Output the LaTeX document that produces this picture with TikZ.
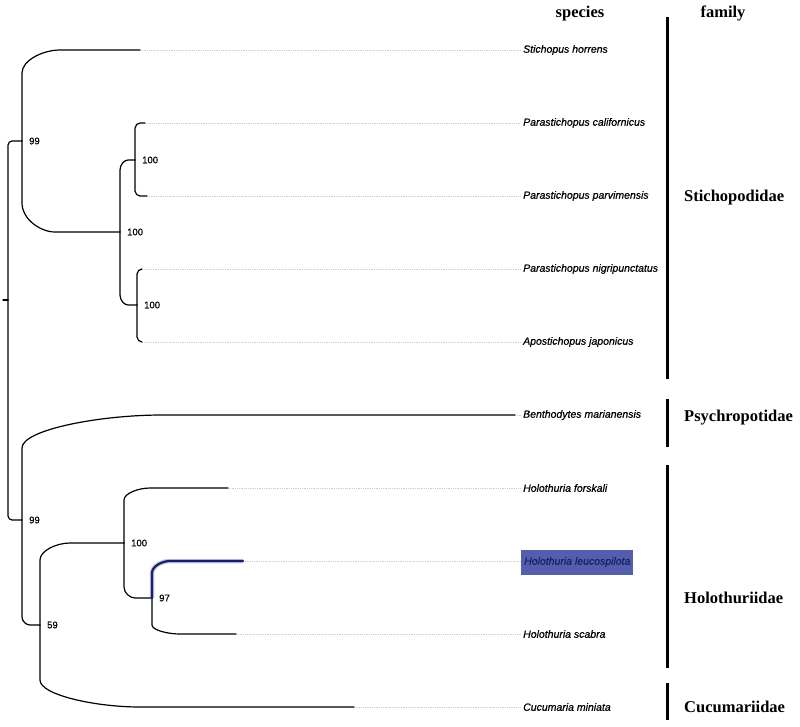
\documentclass[tikz,border=0pt]{standalone}
\usepackage{fontspec}
\setmainfont{Liberation Serif}
\setsansfont[FakeBold=0.6]{Liberation Sans}
\usetikzlibrary{calc,positioning}

\definecolor{hlfill}{RGB}{84,94,172}
\definecolor{hlnavy}{RGB}{22,32,104}
\definecolor{guidegray}{RGB}{205,205,205}

\tikzset{
  branch/.style={line width=1.2pt, line cap=round},
  hlbranch/.style={line width=2.2pt, hlnavy, line cap=round},
  glow/.style={line width=4.5pt, hlfill, opacity=0.35},
  guide/.style={guidegray, line width=0.8pt, densely dotted},
  sp/.style={font=\sffamily\itshape\fontsize{10.5}{12}\selectfont, anchor=west, inner sep=2pt},
  boot/.style={font=\sffamily\fontsize{9.5}{11}\selectfont, inner sep=0pt},
  fam/.style={font=\bfseries\fontsize{16.5}{19}\selectfont, anchor=base west, inner sep=0pt},
  bar/.style={line width=3pt},
}

% elbow branch: parent, child, corner width, corner height (+ up, - down)
\newcommand{\clade}[5][branch]{%
  \draw[#1] let \p1=(#2), \p2=(#3) in
    (\x1,\y1) -- (\x1,{\y2-(#5)*1pt})
    .. controls (\x1,{\y2-0.448*(#5)*1pt}) and ({\x1+0.552*(#4)*1pt},\y2)
    .. ({\x1+(#4)*1pt},\y2) -- (\x2,\y2);}

\begin{document}
\begin{tikzpicture}[x=1pt, y=-1pt]

\useasboundingbox (0,0) rectangle (800,726);

% Internal nodes
\coordinate (root) at (8,300);
\coordinate (stem) at (3,300);
\coordinate (nA) at (22,141);
\coordinate (nB) at (120,232);
\coordinate (nC) at (135,160);
\coordinate (nD) at (137,305);
\coordinate (nE) at (22,520);
\coordinate (nF) at (40,625);
\coordinate (nG) at (124,543);
\coordinate (nH) at (152,598);

% Branch tips
\coordinate (tHorrens) at (140,50);
\coordinate (tCalif) at (145,123);
\coordinate (tParv) at (147,196);
\coordinate (tNigri) at (142,269);
\coordinate (tJapon) at (142,342);
\coordinate (tBentho) at (515,415);
\coordinate (tForsk) at (228,488);
\coordinate (tLeuco) at (243,561);
\coordinate (tScabra) at (236,634);
\coordinate (tCucu) at (354,707);

% Species labels
\node[sp] (horrens) at (521,50) {Stichopus horrens};
\node[sp] (calif) at (521,123) {Parastichopus californicus};
\node[sp] (parv) at (521,196) {Parastichopus parvimensis};
\node[sp] (nigri) at (521,269) {Parastichopus nigripunctatus};
\node[sp] (japon) at (521,342) {Apostichopus japonicus};
\node[sp] (bentho) at (521,415) {Benthodytes marianensis};
\node[sp] (forsk) at (521,488) {Holothuria forskali};
\node[sp, fill=hlfill, text=hlnavy, inner xsep=3pt, minimum height=25pt] (leuco) at (521,562) {Holothuria leucospilota};
\node[sp] (scabra) at (521,634) {Holothuria scabra};
\node[sp] (cucu) at (521,707) {Cucumaria miniata};

% Dotted guides
\foreach \t/\s in {tHorrens/horrens, tCalif/calif, tParv/parv, tNigri/nigri, tJapon/japon,
                   tBentho/bentho, tForsk/forsk, tLeuco/leuco, tScabra/scabra, tCucu/cucu}
  \draw[guide] (\t) -- (\t -| \s.west);

% Tree
\draw[branch] (stem) -- (root);
\clade{root}{nA}{4}{4}
\clade{root}{nE}{4}{-4}
\clade{nA}{tHorrens}{38}{23}
\clade{nA}{nB}{33}{-29}
\clade{nB}{nC}{8}{10}
\clade{nB}{nD}{8}{-10}
\clade{nC}{tCalif}{5}{5}
\clade{nC}{tParv}{5}{-5}
\clade{nD}{tNigri}{5}{5}
\clade{nD}{tJapon}{5}{-5}
\clade{nE}{tBentho}{140}{33}
\clade{nE}{nF}{8}{-8}
\clade{nF}{nG}{30}{17}
\clade{nF}{tCucu}{100}{-27}
\clade{nG}{tForsk}{26}{12}
\clade{nG}{nH}{11}{-11}
\clade{nH}{tScabra}{28}{-9}
\clade[glow]{nH}{tLeuco}{18}{12}
\clade[hlbranch]{nH}{tLeuco}{18}{12}

% Bootstrap values
\node[boot, right=7pt of nA] (bA) {99};
\node[boot, right=7pt of nB] (bB) {100};
\node[boot, right=7pt of nC] (bC) {100};
\node[boot, right=7pt of nD] (bD) {100};
\node[boot, right=7pt of nE] (bE) {99};
\node[boot, right=7pt of nF] (bF) {59};
\node[boot, right=7pt of nG] (bG) {100};
\node[boot, right=7pt of nH] (bH) {97};

% Headers
\node[fam, anchor=base] (species) at (580,17) {species};
\node[fam, anchor=base] (family) at (723,17) {family};

% Family bars and names
\foreach \a/\b in {17/379, 399/447, 465/668, 683/720}
  \draw[bar] (667,\a) -- (667,\b);
\node[fam] (stich) at (684,201) {Stichopodidae};
\node[fam] (psych) at (684,421) {Psychropotidae};
\node[fam] (holo) at (684,603) {Holothuriidae};
\node[fam] (cucum) at (684,712) {Cucumariidae};

\end{tikzpicture}
\end{document}
